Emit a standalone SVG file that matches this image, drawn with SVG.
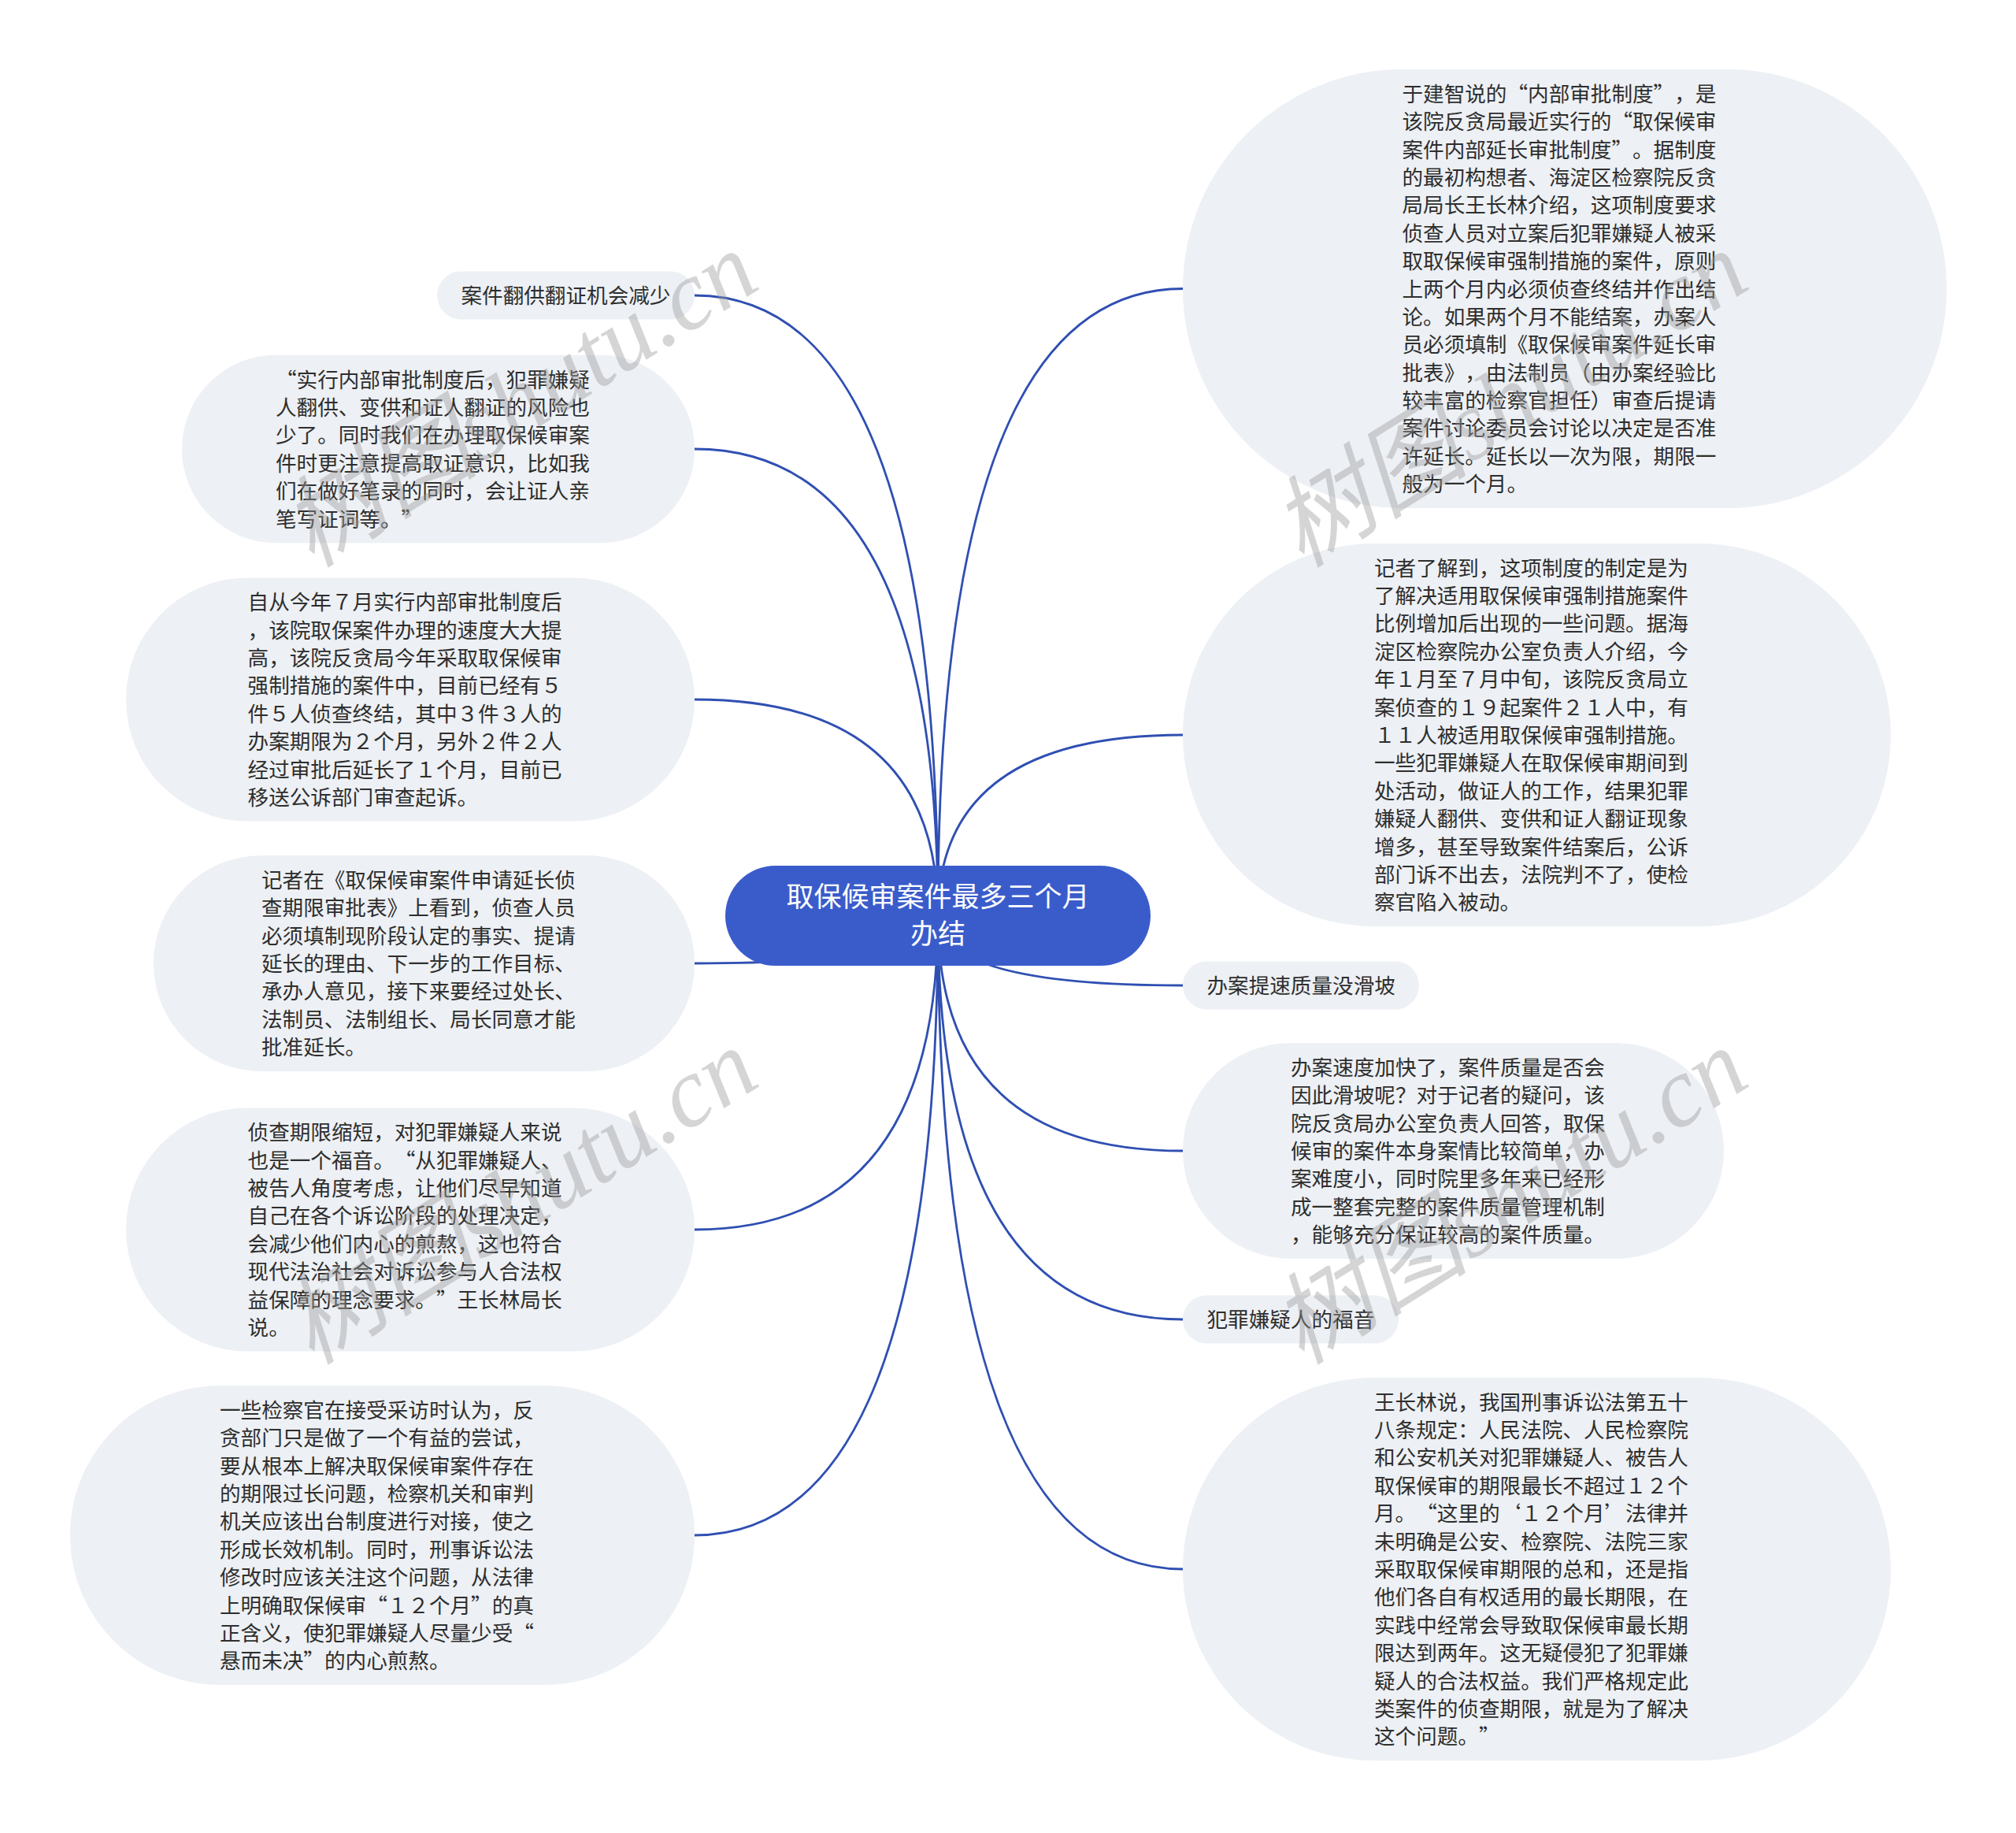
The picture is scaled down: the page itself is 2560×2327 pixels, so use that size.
<svg xmlns="http://www.w3.org/2000/svg" width="2560" height="2327" viewBox="0 0 2560 2327">
<defs>
<style>
.bg{fill:#ffffff}
.conn{fill:none;stroke:#2f4fb2;stroke-width:2.8}
.box{fill:#edf0f4}
.txt{font-family:"Noto Sans CJK SC","Noto Sans",sans-serif;font-size:26.6px;fill:#2e2e2e;text-spacing-trim:space-all}
.main{fill:#3a5ccb}
.mtxt{font-family:"Noto Sans CJK SC","Noto Sans",sans-serif;font-size:35px;fill:#ffffff;text-anchor:middle}
.wm{font-family:"Liberation Serif","Noto Sans CJK SC",serif;font-style:italic;font-size:126px;fill:#9a9a9a;fill-opacity:0.42}
</style>
</defs>
<rect class="bg" x="0" y="0" width="2560" height="2327"/>
<g id="connectors">
<path class="conn" d="M1191 1163 Q1191 366.5 1502 366.5"/>
<path class="conn" d="M1191 1163 Q1191 933 1502 933"/>
<path class="conn" d="M1191 1163 Q1191 1251 1502 1251"/>
<path class="conn" d="M1191 1163 Q1191 1461 1502 1461"/>
<path class="conn" d="M1191 1163 Q1191 1675 1502 1675"/>
<path class="conn" d="M1191 1163 Q1191 1992 1502 1992"/>
<path class="conn" d="M1191 1163 Q1191 375 882 375"/>
<path class="conn" d="M1191 1163 Q1191 570 882 570"/>
<path class="conn" d="M1191 1163 Q1191 888 882 888"/>
<path class="conn" d="M1191 1163 Q1191 1223 882 1223"/>
<path class="conn" d="M1191 1163 Q1191 1561 882 1561"/>
<path class="conn" d="M1191 1163 Q1191 1949 882 1949"/>
</g>
<g id="center">
<rect class="main" x="921" y="1099" width="540" height="127" rx="63.5"/>
<text class="mtxt" x="1191" y="1151">取保候审案件最多三个月</text>
<text class="mtxt" x="1191" y="1198">办结</text>
</g>
<g id="r1">
<rect class="box" x="1502" y="88" width="970" height="557" rx="278.5"/>
<text class="txt" x="1780.5" y="128.7"><tspan x="1780.5">于建智说的“内部审批制度”，是</tspan><tspan x="1780.5" dy="35.4">该院反贪局最近实行的“取保候审</tspan><tspan x="1780.5" dy="35.4">案件内部延长审批制度”。据制度</tspan><tspan x="1780.5" dy="35.4">的最初构想者、海淀区检察院反贪</tspan><tspan x="1780.5" dy="35.4">局局长王长林介绍，这项制度要求</tspan><tspan x="1780.5" dy="35.4">侦查人员对立案后犯罪嫌疑人被采</tspan><tspan x="1780.5" dy="35.4">取取保候审强制措施的案件，原则</tspan><tspan x="1780.5" dy="35.4">上两个月内必须侦查终结并作出结</tspan><tspan x="1780.5" dy="35.4">论。如果两个月不能结案，办案人</tspan><tspan x="1780.5" dy="35.4">员必须填制《取保候审案件延长审</tspan><tspan x="1780.5" dy="35.4">批表》，由法制员（由办案经验比</tspan><tspan x="1780.5" dy="35.4">较丰富的检察官担任）审查后提请</tspan><tspan x="1780.5" dy="35.4">案件讨论委员会讨论以决定是否准</tspan><tspan x="1780.5" dy="35.4">许延长。延长以一次为限，期限一</tspan><tspan x="1780.5" dy="35.4">般为一个月。</tspan></text>
</g>
<g id="r2">
<rect class="box" x="1502" y="690" width="899" height="486" rx="243"/>
<text class="txt" x="1745" y="730.6"><tspan x="1745">记者了解到，这项制度的制定是为</tspan><tspan x="1745" dy="35.4">了解决适用取保候审强制措施案件</tspan><tspan x="1745" dy="35.4">比例增加后出现的一些问题。据海</tspan><tspan x="1745" dy="35.4">淀区检察院办公室负责人介绍，今</tspan><tspan x="1745" dy="35.4">年１月至７月中旬，该院反贪局立</tspan><tspan x="1745" dy="35.4">案侦查的１９起案件２１人中，有</tspan><tspan x="1745" dy="35.4">１１人被适用取保候审强制措施。</tspan><tspan x="1745" dy="35.4">一些犯罪嫌疑人在取保候审期间到</tspan><tspan x="1745" dy="35.4">处活动，做证人的工作，结果犯罪</tspan><tspan x="1745" dy="35.4">嫌疑人翻供、变供和证人翻证现象</tspan><tspan x="1745" dy="35.4">增多，甚至导致案件结案后，公诉</tspan><tspan x="1745" dy="35.4">部门诉不出去，法院判不了，使检</tspan><tspan x="1745" dy="35.4">察官陷入被动。</tspan></text>
</g>
<g id="r3">
<rect class="box" x="1502" y="1220.5" width="300" height="61" rx="30.5"/>
<text class="txt" x="1532.5" y="1261">办案提速质量没滑坡</text>
</g>
<g id="r4">
<rect class="box" x="1502" y="1324" width="687" height="274" rx="137"/>
<text class="txt" x="1639" y="1364.8"><tspan x="1639">办案速度加快了，案件质量是否会</tspan><tspan x="1639" dy="35.4">因此滑坡呢？对于记者的疑问，该</tspan><tspan x="1639" dy="35.4">院反贪局办公室负责人回答，取保</tspan><tspan x="1639" dy="35.4">候审的案件本身案情比较简单，办</tspan><tspan x="1639" dy="35.4">案难度小，同时院里多年来已经形</tspan><tspan x="1639" dy="35.4">成一整套完整的案件质量管理机制</tspan><tspan x="1639" dy="35.4">，能够充分保证较高的案件质量。</tspan></text>
</g>
<g id="r5">
<rect class="box" x="1502" y="1644.5" width="274" height="61" rx="30.5"/>
<text class="txt" x="1532.5" y="1685">犯罪嫌疑人的福音</text>
</g>
<g id="r6">
<rect class="box" x="1502" y="1749" width="899" height="486" rx="243"/>
<text class="txt" x="1745" y="1789.6"><tspan x="1745">王长林说，我国刑事诉讼法第五十</tspan><tspan x="1745" dy="35.4">八条规定：人民法院、人民检察院</tspan><tspan x="1745" dy="35.4">和公安机关对犯罪嫌疑人、被告人</tspan><tspan x="1745" dy="35.4">取保候审的期限最长不超过１２个</tspan><tspan x="1745" dy="35.4">月。“这里的‘１２个月’法律并</tspan><tspan x="1745" dy="35.4">未明确是公安、检察院、法院三家</tspan><tspan x="1745" dy="35.4">采取取保候审期限的总和，还是指</tspan><tspan x="1745" dy="35.4">他们各自有权适用的最长期限，在</tspan><tspan x="1745" dy="35.4">实践中经常会导致取保候审最长期</tspan><tspan x="1745" dy="35.4">限达到两年。这无疑侵犯了犯罪嫌</tspan><tspan x="1745" dy="35.4">疑人的合法权益。我们严格规定此</tspan><tspan x="1745" dy="35.4">类案件的侦查期限，就是为了解决</tspan><tspan x="1745" dy="35.4">这个问题。”</tspan></text>
</g>
<g id="l1">
<rect class="box" x="555" y="344.5" width="327" height="61" rx="30.5"/>
<text class="txt" x="585.5" y="385">案件翻供翻证机会减少</text>
</g>
<g id="l2">
<rect class="box" x="231" y="450.8" width="651" height="238.4" rx="119.2"/>
<text class="txt" x="350" y="491.5"><tspan x="350">“实行内部审批制度后，犯罪嫌疑</tspan><tspan x="350" dy="35.4">人翻供、变供和证人翻证的风险也</tspan><tspan x="350" dy="35.4">少了。同时我们在办理取保候审案</tspan><tspan x="350" dy="35.4">件时更注意提高取证意识，比如我</tspan><tspan x="350" dy="35.4">们在做好笔录的同时，会让证人亲</tspan><tspan x="350" dy="35.4">笔写证词等。”</tspan></text>
</g>
<g id="l3">
<rect class="box" x="160" y="733.4" width="722" height="309.2" rx="154.6"/>
<text class="txt" x="314.6" y="774.1"><tspan x="314.6">自从今年７月实行内部审批制度后</tspan><tspan x="314.6" dy="35.4">，该院取保案件办理的速度大大提</tspan><tspan x="314.6" dy="35.4">高，该院反贪局今年采取取保候审</tspan><tspan x="314.6" dy="35.4">强制措施的案件中，目前已经有５</tspan><tspan x="314.6" dy="35.4">件５人侦查终结，其中３件３人的</tspan><tspan x="314.6" dy="35.4">办案期限为２个月，另外２件２人</tspan><tspan x="314.6" dy="35.4">经过审批后延长了１个月，目前已</tspan><tspan x="314.6" dy="35.4">移送公诉部门审查起诉。</tspan></text>
</g>
<g id="l4">
<rect class="box" x="195" y="1086.1" width="687" height="273.8" rx="136.9"/>
<text class="txt" x="332" y="1126.8"><tspan x="332">记者在《取保候审案件申请延长侦</tspan><tspan x="332" dy="35.4">查期限审批表》上看到，侦查人员</tspan><tspan x="332" dy="35.4">必须填制现阶段认定的事实、提请</tspan><tspan x="332" dy="35.4">延长的理由、下一步的工作目标、</tspan><tspan x="332" dy="35.4">承办人意见，接下来要经过处长、</tspan><tspan x="332" dy="35.4">法制员、法制组长、局长同意才能</tspan><tspan x="332" dy="35.4">批准延长。</tspan></text>
</g>
<g id="l5">
<rect class="box" x="160" y="1406.4" width="722" height="309.2" rx="154.6"/>
<text class="txt" x="314.6" y="1447.1"><tspan x="314.6">侦查期限缩短，对犯罪嫌疑人来说</tspan><tspan x="314.6" dy="35.4">也是一个福音。“从犯罪嫌疑人、</tspan><tspan x="314.6" dy="35.4">被告人角度考虑，让他们尽早知道</tspan><tspan x="314.6" dy="35.4">自己在各个诉讼阶段的处理决定，</tspan><tspan x="314.6" dy="35.4">会减少他们内心的煎熬，这也符合</tspan><tspan x="314.6" dy="35.4">现代法治社会对诉讼参与人合法权</tspan><tspan x="314.6" dy="35.4">益保障的理念要求。”王长林局长</tspan><tspan x="314.6" dy="35.4">说。</tspan></text>
</g>
<g id="l6">
<rect class="box" x="89" y="1759" width="793" height="380" rx="190"/>
<text class="txt" x="279" y="1799.7"><tspan x="279">一些检察官在接受采访时认为，反</tspan><tspan x="279" dy="35.4">贪部门只是做了一个有益的尝试，</tspan><tspan x="279" dy="35.4">要从根本上解决取保候审案件存在</tspan><tspan x="279" dy="35.4">的期限过长问题，检察机关和审判</tspan><tspan x="279" dy="35.4">机关应该出台制度进行对接，使之</tspan><tspan x="279" dy="35.4">形成长效机制。同时，刑事诉讼法</tspan><tspan x="279" dy="35.4">修改时应该关注这个问题，从法律</tspan><tspan x="279" dy="35.4">上明确取保候审“１２个月”的真</tspan><tspan x="279" dy="35.4">正含义，使犯罪嫌疑人尽量少受“</tspan><tspan x="279" dy="35.4">悬而未决”的内心煎熬。</tspan></text>
</g>
<g id="watermarks">
<text class="wm" transform="translate(396 722) rotate(-32)">树图shutu.cn</text>
<text class="wm" transform="translate(1653 722) rotate(-32)">树图shutu.cn</text>
<text class="wm" transform="translate(396 1734) rotate(-32)">树图shutu.cn</text>
<text class="wm" transform="translate(1653 1734) rotate(-32)">树图shutu.cn</text>
</g>
</svg>
